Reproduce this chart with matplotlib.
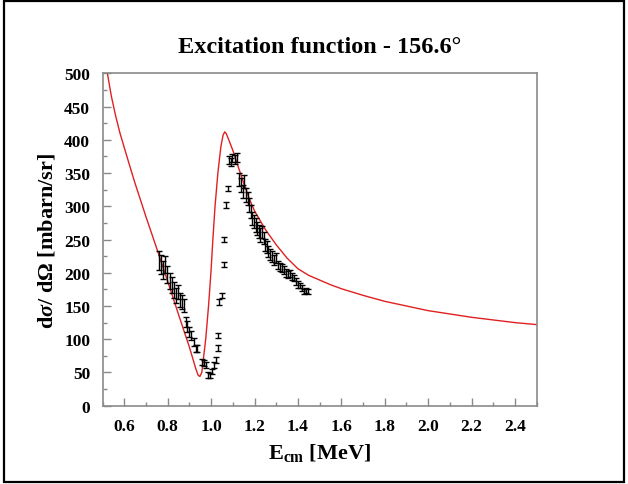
import matplotlib
matplotlib.use("Agg")
import matplotlib.pyplot as plt
from matplotlib.ticker import MultipleLocator
from matplotlib.patches import Rectangle

# Measured excitation function (centre-of-mass energy in MeV, cross section in mbarn/sr)
energy = [0.759, 0.768, 0.777, 0.787, 0.796, 0.809, 0.818, 0.827, 0.836, 0.846,
          0.855, 0.864, 0.873, 0.882, 0.891, 0.900, 0.909, 0.919, 0.928, 0.937,
          0.956, 0.965, 0.975, 0.984, 0.993, 1.002, 1.012, 1.021, 1.030, 1.032,
          1.037, 1.048, 1.057, 1.059, 1.070, 1.076, 1.081, 1.090, 1.098, 1.109,
          1.120, 1.127, 1.137, 1.146, 1.153, 1.159, 1.168, 1.176, 1.183, 1.190,
          1.198, 1.205, 1.212, 1.220, 1.227, 1.234, 1.242, 1.249, 1.257, 1.264,
          1.271, 1.279, 1.288, 1.297, 1.307, 1.316, 1.325, 1.334, 1.343, 1.353,
          1.362, 1.371, 1.380, 1.390, 1.399, 1.408, 1.417, 1.427, 1.436, 1.445]
xsec = [218, 212, 204, 212, 197, 187, 181, 174, 166, 171,
        159, 156, 151, 126, 119, 111, 106, 96, 86, 86,
        66, 64, 61, 46, 45, 51, 61, 69, 87, 106,
        156, 166, 212, 250, 302, 327, 370, 367, 372, 370,
        373, 340, 332, 322, 337, 317, 312, 302, 292, 282,
        277, 272, 267, 262, 257, 262, 252, 242, 239, 232,
        227, 224, 219, 222, 212, 209, 207, 204, 199, 197,
        199, 194, 192, 187, 182, 181, 177, 172, 173, 172]
xsec_err = [14, 14, 13, 13, 13, 12, 12, 12, 11, 11,
            10, 10, 10, 8, 8, 7, 7, 6, 5, 5,
            5, 5, 5, 4, 4, 4, 5, 5, 4, 4,
            4, 4, 4, 4, 4, 4, 6, 6, 6, 7,
            7, 10, 10, 10, 10, 10, 10, 10, 10, 10,
            10, 10, 10, 10, 10, 9, 9, 9, 9, 8,
            8, 8, 7, 7, 6, 6, 6, 6, 6, 5,
            5, 5, 5, 5, 5, 4, 4, 4, 4, 4]

# Fit curve
fit_energy = [0.522, 0.540, 0.560, 0.580, 0.600, 0.633, 0.650, 0.700, 0.750, 0.800,
              0.850, 0.900, 0.930, 0.940, 0.948, 0.957, 0.975, 0.988, 0.999, 1.008,
              1.018, 1.031, 1.045, 1.055, 1.063, 1.070, 1.080, 1.100, 1.120, 1.150,
              1.175, 1.200, 1.250, 1.300, 1.350, 1.400, 1.450, 1.500, 1.550, 1.600,
              1.700, 1.800, 1.900, 2.000, 2.100, 2.200, 2.300, 2.400, 2.500]
fit_xsec = [500, 466, 436, 410, 388, 352, 334, 284, 236, 187,
            137, 88, 55, 46, 44, 50, 100, 150, 200, 250,
            300, 350, 390, 407, 412, 409, 401, 384, 364, 335,
            312, 293, 265, 242, 222, 206, 196, 189, 182, 176,
            166, 157, 150, 143, 138, 133, 129, 125, 122]

xticks = [0.6, 0.8, 1.0, 1.2, 1.4, 1.6, 1.8, 2.0, 2.2, 2.4]
yticks = [0, 50, 100, 150, 200, 250, 300, 350, 400, 450, 500]

serif = ["Liberation Serif", "DejaVu Serif"]
plt.rcParams["font.family"] = serif
plt.rcParams["font.weight"] = "bold"
plt.rcParams["mathtext.fontset"] = "custom"
plt.rcParams["mathtext.rm"] = "Liberation Serif:bold"
plt.rcParams["mathtext.it"] = "Liberation Serif:italic:bold"
plt.rcParams["mathtext.bf"] = "Liberation Serif:bold"

fig = plt.figure(figsize=(6.28, 4.85), dpi=100)
ax = fig.add_axes([0.1634, 0.1614, 0.6912, 0.6854])

ax.plot(fit_energy, fit_xsec, color="#e02020", lw=1.0, zorder=2)
ax.errorbar(energy, xsec, yerr=xsec_err, fmt="none", ecolor="black",
            elinewidth=1.0, capsize=2.4, capthick=1.0, zorder=3)

ax.set_xlim(0.5, 2.5)
ax.set_ylim(0, 500)
ax.set_xticks(xticks)
ax.set_xticklabels([f"{t:.1f}" for t in xticks])
ax.set_yticks(yticks)
ax.set_yticklabels([str(t) for t in yticks])
ax.xaxis.set_minor_locator(MultipleLocator(0.1))
ax.yaxis.set_minor_locator(MultipleLocator(25))

gray = "#8a8a8a"
for s in ax.spines.values():
    s.set_color(gray)
    s.set_linewidth(1.2)
ax.tick_params(which="both", direction="in", color=gray, top=False, right=False,
               labelsize=12.5)
ax.tick_params(which="major", length=6, width=1.0, pad=9)
ax.tick_params(which="minor", length=3, width=1.0)
for lab in ax.get_xticklabels() + ax.get_yticklabels():
    lab.set_fontweight("bold")

ax.set_title("Excitation function - 156.6°", fontsize=17.5, fontweight="bold", pad=15)
ax.set_ylabel(r"d$\sigma$/ d$\Omega$ [mbarn/sr]", fontsize=16, fontweight="bold", labelpad=5)
ax.set_xlabel(r"E$_{\mathrm{cm}}$ [MeV]", fontsize=16, fontweight="bold", labelpad=5)

# outer frame around the whole figure
fig.patches.append(Rectangle((4 / 628, 2 / 485), 620 / 628, 481 / 485,
                             transform=fig.transFigure, fill=False,
                             edgecolor="black", linewidth=1.6))

fig.savefig("out.png", dpi=100)
